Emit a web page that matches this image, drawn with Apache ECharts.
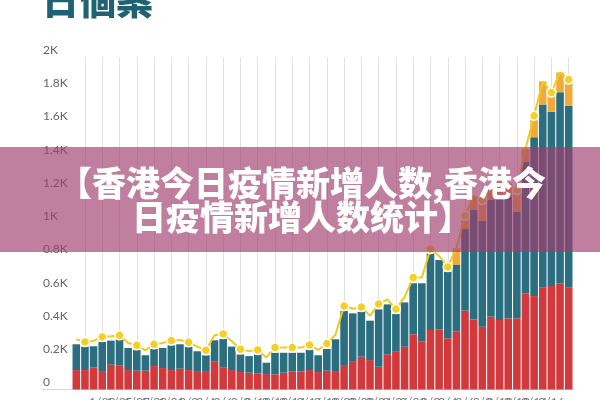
<!DOCTYPE html>
<html><head><meta charset="utf-8">
<script src="https://cdn.jsdelivr.net/npm/echarts@6/dist/echarts.min.js"></script>
<style>html,body{margin:0;padding:0;background:#fff}#c{width:600px;height:400px}</style>
</head><body><div id="c"></div>
<script>
const categories = ['1/20','1/21','1/22','1/23','1/24','1/25','1/26','1/27','1/28','1/29','1/30','1/31',
  '2/1','2/2','2/3','2/4','2/5','2/6','2/7','2/8','2/9','2/10','2/11','2/12','2/13','2/14','2/15','2/16','2/17','2/18','2/19','2/20','2/21','2/22','2/23','2/24','2/25','2/26','2/27','2/28',
  '3/1','3/2','3/3','3/4','3/5','3/6','3/7','3/8','3/9','3/10','3/11','3/12','3/13','3/14','3/15','3/16','3/17','3/18'];
const redValues = [117,117,133,111,149,143,117,113,113,141,129,117,125,117,111,111,167,131,117,105,101,97,93,91,101,109,109,117,105,113,
  111,147,171,197,177,137,211,227,257,332,288,358,362,308,348,474,422,378,438,418,428,428,578,562,612,622,638,612];
const tealValues = [155,141,127,175,145,157,133,125,93,103,121,149,147,141,119,95,129,173,141,106,100,114,68,130,120,112,112,122,101,131,
  191,325,287,271,237,345,301,227,267,307,351,461,417,401,401,491,658,635,702,732,732,642,792,955,1103,1049,1150,1095];
const orangeValues = [0,0,0,0,0,0,0,0,0,0,0,0,0,0,0,0,0,0,0,0,0,0,0,0,0,0,0,0,0,0,
  0,0,0,0,0,0,0,0,0,0,0,0,0,0,100,80,85,127,80,80,80,130,75,129,138,115,119,157];
const totalValues = [302,286,292,316,320,326,280,266,236,272,280,294,298,284,258,236,326,334,290,242,232,238,193,252,252,252,252,268,238,276,
  330,502,486,496,444,514,542,484,556,673,673,845,803,737,849,1045,1165,1140,1220,1230,1240,1200,1445,1646,1853,1786,1907,1864];
const yTickLabels = ['0','0.2K','0.4K','0.6K','0.8K','1K','1.2K','1.4K','1.6K','1.8K','2K'];
const titleText = '日個案';
const bannerLines = ['【香港今日疫情新增人数,香港今', '日疫情新增人数统计】'];

const chart = echarts.init(document.getElementById('c'), null, {renderer: 'canvas'});
const everyOther = (i) => i % 2 === 1;
chart.setOption({
  backgroundColor: '#fff',
  animation: false,
  grid: {left: 72, right: 27, top: 57, bottom: 10.5, containLabel: false, outerBoundsMode: 'none'},
  xAxis: {
    type: 'category', data: categories,
    axisLine: {show: true, lineStyle: {color: '#d6d6d6', width: 1}},
    axisTick: {show: false},
    axisLabel: {interval: everyOther, color: '#777', fontSize: 12, margin: 7, fontFamily: 'Lato'},
    splitLine: {show: true, interval: everyOther, alignWithLabel: true, lineStyle: {color: '#e2e2e2', width: 1}}
  },
  yAxis: {
    type: 'value', min: 0, max: 2000, interval: 200,
    axisLine: {show: false}, axisTick: {show: false}, splitLine: {show: false},
    axisLabel: {
      formatter: (v) => yTickLabels[Math.round(v / 200)],
      align: 'left', margin: 29, verticalAlign: 'bottom', padding: [0, 0, 1, 0],
      color: '#666', fontSize: 12, fontFamily: 'Lato'
    }
  },
  series: [
    {type: 'bar', stack: 't', data: redValues, barCategoryGap: '12%', itemStyle: {color: '#d2393c'}},
    {type: 'bar', stack: 't', data: tealValues, itemStyle: {color: '#2b6e7f'}},
    {type: 'bar', stack: 't', data: orangeValues, itemStyle: {color: '#f1aa38'}},
    {type: 'line', data: totalValues, z: 5, symbol: 'circle', symbolSize: 9,
      lineStyle: {color: '#f3c920', width: 2},
      itemStyle: {color: '#f5cf22', borderColor: '#fff', borderWidth: 1.5}}
  ],
  graphic: [
    {type: 'line', z: 1, shape: {x1: 42, y1: 389.5, x2: 72, y2: 389.5}, style: {stroke: '#d6d6d6', lineWidth: 1}},
    {type: 'text', z: 10, left: 42, top: -18, style: {text: titleText, font: '900 37px "Noto Sans CJK TC"', fill: '#1f6274'}},
    {type: 'rect', z: 100, shape: {x: 0, y: 147, width: 600, height: 105}, style: {fill: 'rgba(160,60,110,0.66)'}},
    {type: 'text', z: 101, style: {text: bannerLines[0], x: 302, y: 183, align: 'center', verticalAlign: 'middle', textAlign: 'center', textVerticalAlign: 'middle', font: '900 34px "Noto Sans CJK SC"', fill: '#fff'}},
    {type: 'text', z: 101, style: {text: bannerLines[1], x: 302, y: 217, align: 'center', verticalAlign: 'middle', textAlign: 'center', textVerticalAlign: 'middle', font: '900 34px "Noto Sans CJK SC"', fill: '#fff'}}
  ]
});
</script></body></html>
